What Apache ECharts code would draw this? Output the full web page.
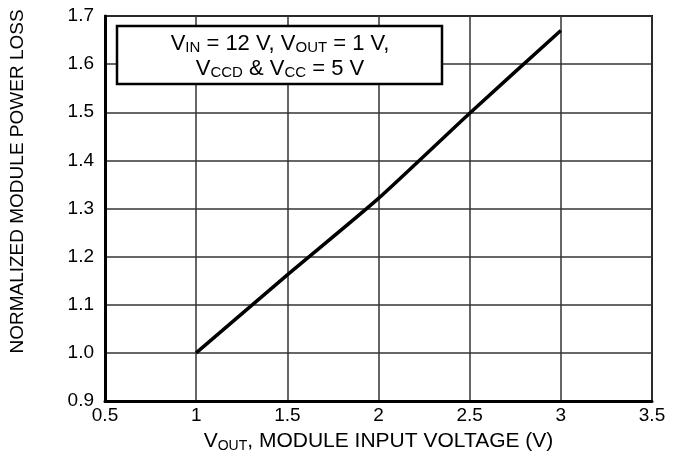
<!DOCTYPE html>
<html>
<head>
<meta charset="utf-8">
<script src="https://cdn.jsdelivr.net/npm/echarts@6/dist/echarts.min.js"></script>
<style>
  html, body { margin: 0; padding: 0; background: #fff; }
  #chart { width: 675px; height: 459px; }
</style>
</head>
<body>
<div id="chart"></div>
<script>
// data
var vout = [1, 1.5, 2, 2.5, 3];
var powerLoss = [1.0, 1.162, 1.321, 1.498, 1.67];
var xTicks = [0.5, 3.5, 0.5]; // min, max, interval
var yTicks = [0.9, 1.7, 0.1];

var font = 'Liberation Sans, Arial, Helvetica, sans-serif';

var chart = echarts.init(document.getElementById('chart'));
var option = {
  backgroundColor: '#fff',
  animation: false,
  grid: {
    left: 105, right: 23, top: 16, bottom: 58,
    show: true, borderColor: '#111', borderWidth: 2
  },
  xAxis: {
    type: 'value',
    min: xTicks[0], max: xTicks[1], interval: xTicks[2],
    name: '{n|V}{s|OUT}{n|, MODULE INPUT VOLTAGE (V)}',
    nameLocation: 'middle',
    nameGap: 29,
    nameTextStyle: {
      rich: {
        n: { fontSize: 21, fontFamily: font, color: '#000' },
        s: { fontSize: 14, fontFamily: font, color: '#000', padding: [9, 0, 0, 0] }
      }
    },
    axisLine: { show: true, onZero: false, lineStyle: { color: '#000', width: 3 } },
    axisTick: { show: false },
    axisLabel: {
      margin: 5, fontSize: 19, fontFamily: font, color: '#000',
      formatter: function (v) { return String(v); }
    },
    splitLine: { show: true, lineStyle: { color: '#333', width: 1.5 } }
  },
  yAxis: {
    type: 'value',
    min: yTicks[0], max: yTicks[1], interval: yTicks[2],
    name: 'NORMALIZED MODULE POWER LOSS',
    nameLocation: 'middle',
    nameGap: 78,
    nameTextStyle: { fontSize: 19, fontFamily: font, color: '#000', padding: [0, 0, 0, 54] },
    axisLine: { show: true, onZero: false, lineStyle: { color: '#000', width: 3 } },
    axisTick: { show: false },
    axisLabel: {
      margin: 11, fontSize: 19, fontFamily: font, color: '#000',
      formatter: function (v) { return v.toFixed(1); }
    },
    splitLine: { show: true, lineStyle: { color: '#333', width: 1.5 } }
  },
  series: [{
    type: 'line',
    data: vout.map(function (x, i) { return [x, powerLoss[i]]; }),
    showSymbol: false,
    smooth: 0.2,
    lineStyle: { color: '#000', width: 3.5 }
  }],
  graphic: [{
    type: 'rect',
    shape: { x: 117, y: 26, width: 325, height: 58 },
    style: { fill: '#fff', stroke: '#000', lineWidth: 2.5 },
    z: 100
  }, {
    type: 'text',
    x: 280, y: 56,
    z: 101,
    style: {
      text: '{n|V}{s|IN}{n| = 12 V, V}{s|OUT}{n| = 1 V,}\n{n|V}{s|CCD}{n| & V}{s|CC}{n| = 5 V}',
      align: 'center',
      verticalAlign: 'middle',
      rich: {
        n: { fontSize: 22, fontFamily: font, color: '#000', lineHeight: 25 },
        s: { fontSize: 15, fontFamily: font, color: '#000', lineHeight: 25, padding: [9, 0, 0, 0] }
      }
    }
  }]
};
chart.setOption(option);
</script>
</body>
</html>
